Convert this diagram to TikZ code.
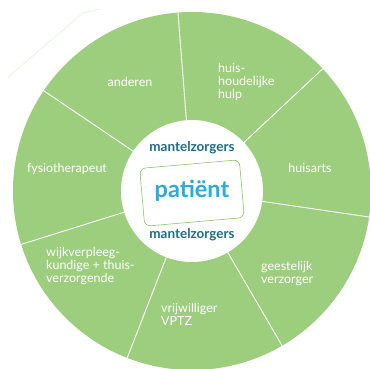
\documentclass[tikz,border=0pt]{standalone}
\usepackage{fontspec}
\setmainfont{Lato}
\usepackage{tikz}
\definecolor{wheel}{RGB}{157,206,126}
\definecolor{mzblue}{RGB}{31,108,140}
\definecolor{sky}{RGB}{41,171,226}
\definecolor{boxgreen}{RGB}{140,198,108}

\begin{document}
\begin{tikzpicture}[x=1pt,y=1pt,
	lbl/.style={text=white,font=\fontsize{12.5}{13.2}\selectfont,align=left,inner sep=0pt},
	mz/.style={text=mzblue,font=\fontsize{13.5}{15}\selectfont\bfseries,inner sep=0pt}]
	\useasboundingbox (-192,-177) rectangle (178,191);

	% faint stray line top left
	\draw[wheel!35,line width=0.5] (-184,114) -- (-109,178) -- (-92,182);

	\fill[wheel] (0,0) circle (179);
	\fill[white] (0,0) circle (71);
	\foreach \a in {0,...,6}
		\draw[white,line width=0.9] (94.5-\a*360/7:71) -- (94.5-\a*360/7:179);

	\node[lbl] (anderen) at (-62,109) {anderen};
	\node[lbl,anchor=west] (hulp) at (26,109) {huis-\\houdelijke\\hulp};
	\node[lbl] (huisarts) at (118,23) {huisarts};
	\node[lbl] (fysio) at (-125,22) {fysiotherapeut};
	\node[lbl,anchor=west] (geestelijk) at (69,-82.5) {geestelijk\\verzorger};
	\node[lbl,anchor=west] (vptz) at (-31,-123) {vrijwilliger\\VPTZ};
	\node[lbl,anchor=west] (wijk) at (-146,-75) {wijkverpleeg-\\kundige + thuis-\\verzorgende};

	\node[draw=boxgreen,line width=0.6,rounded corners=6,minimum width=100,minimum height=58,rotate=5] (box) at (0,-2) {};
	\node[text=sky,font=\fontsize{23.5}{26}\selectfont\bfseries,inner sep=0pt] (patient) at (0,0) {patiënt};
	\node[mz] (mztop) at (0,43) {mantelzorgers};
	\node[mz] (mzbot) at (0,-44) {mantelzorgers};
\end{tikzpicture}
\end{document}
